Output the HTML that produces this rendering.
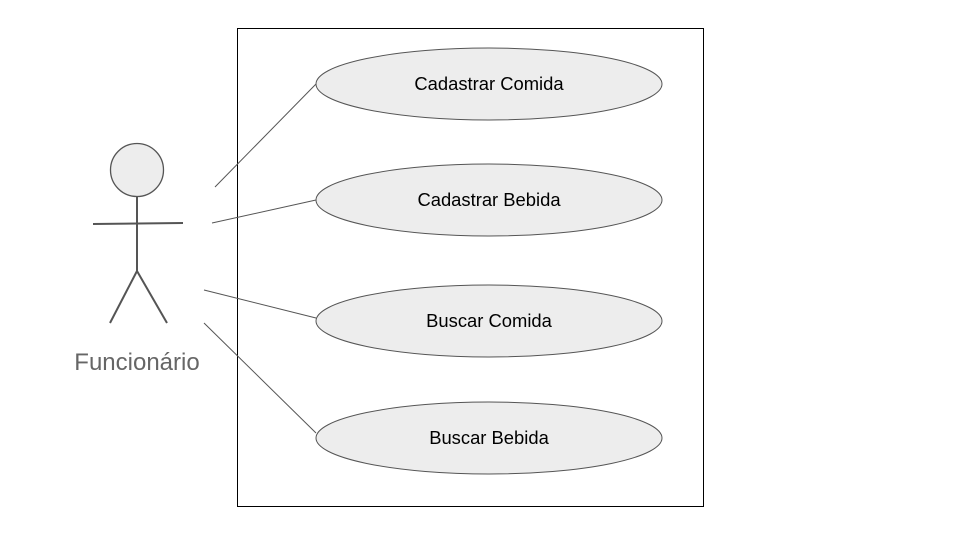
<!DOCTYPE html>
<html><head><style>html,body{margin:0;padding:0;background:#fff}</style></head><body>
<svg width="960" height="540" xmlns="http://www.w3.org/2000/svg">
<rect x="237.5" y="28.5" width="466" height="478" fill="none" stroke="#000" stroke-width="1"/>
<g stroke="#555" stroke-width="1" fill="none">
<line x1="215" y1="187" x2="316" y2="84"/>
<line x1="212" y1="223" x2="316" y2="200"/>
<line x1="204" y1="290" x2="316" y2="318"/>
<line x1="204" y1="323" x2="316" y2="433"/>
</g>
<g fill="#ededed" stroke="#555" stroke-width="1">
<ellipse cx="489" cy="84" rx="173" ry="36"/>
<ellipse cx="489" cy="200" rx="173" ry="36"/>
<ellipse cx="489" cy="321" rx="173" ry="36"/>
<ellipse cx="489" cy="438" rx="173" ry="36"/>
</g>
<g font-family="Liberation Sans, sans-serif" font-size="18.4" fill="#000" text-anchor="middle">
<text x="489" y="90">Cadastrar Comida</text>
<text x="489" y="206">Cadastrar Bebida</text>
<text x="489" y="327">Buscar Comida</text>
<text x="489" y="444">Buscar Bebida</text>
</g>
<g stroke="#555" stroke-width="2" fill="none">
<circle cx="137" cy="170" r="26.5" fill="#ededed" stroke-width="1.3"/>
<line x1="137" y1="196" x2="137" y2="271"/>
<line x1="93" y1="224" x2="183" y2="223"/>
<line x1="137" y1="271" x2="110" y2="323"/>
<line x1="137" y1="271" x2="167" y2="323"/>
</g>
<text x="137" y="370" font-family="Liberation Sans, sans-serif" font-size="24" fill="#666" text-anchor="middle">Funcionário</text>
</svg>
</body></html>
